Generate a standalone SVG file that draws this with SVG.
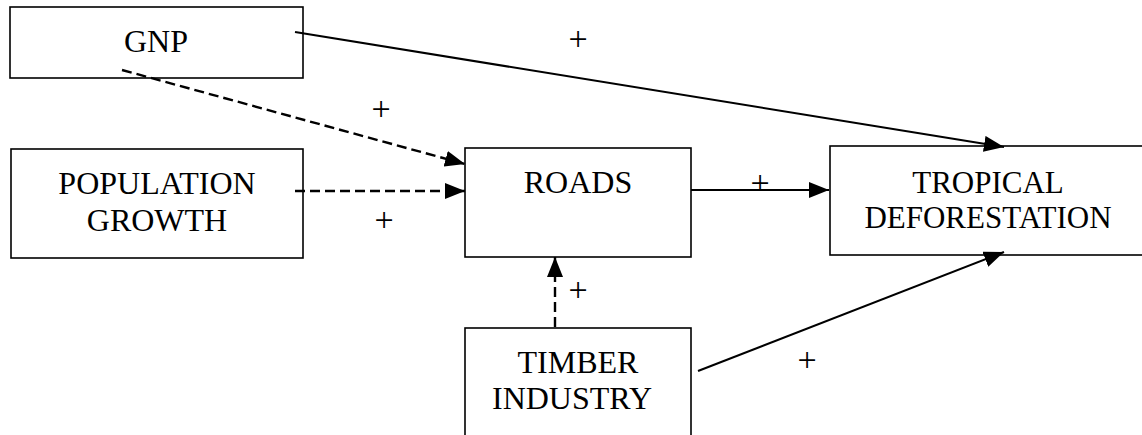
<svg xmlns="http://www.w3.org/2000/svg" width="1142" height="435" viewBox="0 0 1142 435">
<style>
.box{fill:#fff;stroke:#000;stroke-width:1.6}
.t{font-family:"Liberation Serif","Times New Roman",serif;font-size:32px;fill:#000;text-anchor:middle}
.tt{font-family:"Liberation Serif","Times New Roman",serif;font-size:31px;fill:#000;text-anchor:middle}
.p{font-family:"Liberation Serif","Times New Roman",serif;font-size:34px;fill:#000;text-anchor:middle}
.s{stroke:#000;stroke-width:2;fill:none}
.d{stroke:#000;stroke-width:2.4;fill:none;stroke-dasharray:10 5}
</style>
<defs>
<marker id="ah" viewBox="0 0 20 16" refX="20" refY="8" markerWidth="20" markerHeight="16" markerUnits="userSpaceOnUse" orient="auto">
<path d="M0,0 L20,8 L0,16 Z" fill="#000"/>
</marker>
</defs>
<g id="gnp"><rect class="box" x="10" y="7" width="293" height="71"/><text class="t" x="156" y="52">GNP</text></g>
<g id="population"><rect class="box" x="11" y="149" width="292" height="109"/><text class="t" x="157" y="194">POPULATION</text><text class="t" x="157" y="231">GROWTH</text></g>
<g id="roads"><rect class="box" x="465" y="148" width="226" height="109"/><text class="t" x="578" y="193">ROADS</text></g>
<g id="tropical"><rect class="box" x="830" y="146" width="320" height="109"/><text class="tt" x="988" y="193">TROPICAL</text><text class="tt" x="988" y="228">DEFORESTATION</text></g>
<g id="timber"><rect class="box" x="465" y="328" width="226" height="120"/><text class="t" x="578" y="373">TIMBER</text><text class="t" x="572" y="409">INDUSTRY</text></g>
<g id="connectors">
<line class="s" x1="295" y1="32" x2="1004" y2="147" marker-end="url(#ah)"/>
<line class="d" x1="122" y1="70" x2="465" y2="164" marker-end="url(#ah)"/>
<line class="d" x1="295" y1="191" x2="465" y2="191" marker-end="url(#ah)"/>
<line class="s" x1="691" y1="190" x2="829" y2="190" marker-end="url(#ah)"/>
<line class="d" x1="555" y1="327" x2="555" y2="257" marker-end="url(#ah)"/>
<line class="s" x1="698" y1="371" x2="1004" y2="252" marker-end="url(#ah)"/>
</g>
<g id="labels">
<text class="p" x="578" y="50">+</text>
<text class="p" x="381" y="120">+</text>
<text class="p" x="384" y="231">+</text>
<text class="p" x="760" y="194">+</text>
<text class="p" x="578" y="301">+</text>
<text class="p" x="807" y="371">+</text>
</g>
</svg>
